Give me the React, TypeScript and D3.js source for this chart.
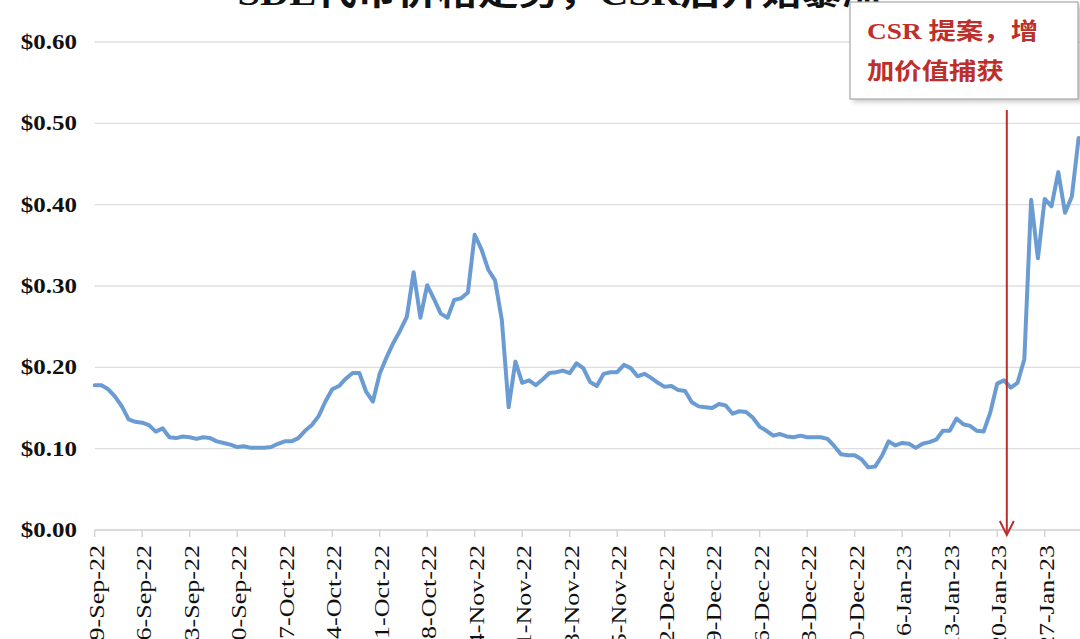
import React from "react";
import * as d3 from "d3";

// ---- data ----
const title = "SDL代币价格走势，CSR后开始暴涨";
const startDate = "2022-09-09";
const prices = [
  0.178, 0.178, 0.173, 0.164, 0.152, 0.136, 0.133, 0.132, 0.129, 0.121,
  0.125, 0.114, 0.113, 0.115, 0.114, 0.112, 0.114, 0.113, 0.109, 0.107,
  0.105, 0.102, 0.103, 0.101, 0.101, 0.101, 0.102, 0.106, 0.109, 0.109,
  0.113, 0.122, 0.129, 0.140, 0.158, 0.173, 0.177, 0.186, 0.193, 0.193,
  0.170, 0.158, 0.192, 0.212, 0.230, 0.245, 0.262, 0.317, 0.261, 0.301,
  0.284, 0.266, 0.261, 0.283, 0.285, 0.292, 0.363, 0.345, 0.320, 0.307,
  0.258, 0.151, 0.207, 0.181, 0.184, 0.178, 0.185, 0.193, 0.194, 0.196,
  0.193, 0.205, 0.199, 0.182, 0.177, 0.192, 0.194, 0.194, 0.203, 0.199,
  0.189, 0.192, 0.187, 0.181, 0.176, 0.177, 0.172, 0.171, 0.157, 0.152,
  0.151, 0.150, 0.155, 0.153, 0.143, 0.146, 0.145, 0.138, 0.127, 0.122,
  0.116, 0.118, 0.115, 0.114, 0.116, 0.114, 0.114, 0.114, 0.112, 0.103,
  0.093, 0.092, 0.092, 0.087, 0.077, 0.078, 0.091, 0.109, 0.104, 0.107,
  0.106, 0.101, 0.106, 0.108, 0.111, 0.122, 0.122, 0.137, 0.130, 0.128,
  0.122, 0.121, 0.145, 0.180, 0.184, 0.175, 0.181, 0.210, 0.406, 0.334,
  0.407, 0.398, 0.440, 0.390, 0.410, 0.482,
];
const xTickLabels = [
  "9-Sep-22", "16-Sep-22", "23-Sep-22", "30-Sep-22", "7-Oct-22", "14-Oct-22",
  "21-Oct-22", "28-Oct-22", "4-Nov-22", "11-Nov-22", "18-Nov-22", "25-Nov-22",
  "2-Dec-22", "9-Dec-22", "16-Dec-22", "23-Dec-22", "30-Dec-22", "6-Jan-23",
  "13-Jan-23", "20-Jan-23", "27-Jan-23",
];
const yTicks = [0, 0.1, 0.2, 0.3, 0.4, 0.5, 0.6];
const annotationDate = "2023-01-21T10:00";
const annotationLines = ["CSR 提案，增", "加价值捕获"];

// ---- layout ----
const W = 1080;
const H = 639;
const SX = 1.19; // text in the picture is stretched along its direction
const serif = "'Liberation Serif', 'Times New Roman', 'Noto Sans CJK SC', serif";
const lineColor = "#6a9bd2";
const red = "#bd2f2a";

const parseTick = d3.utcParse("%d-%b-%y");
const parseDay = d3.utcParse("%Y-%m-%d");
const parseAnn = d3.utcParse("%Y-%m-%dT%H:%M");
const fmtY = d3.format("$.2f");

export default function App() {
  const tickDates = xTickLabels.map((t) => parseTick(t) as Date);
  const x = d3
    .scaleUtc()
    .domain([tickDates[0], tickDates[tickDates.length - 1]])
    .range([94.7, 1044.7]);
  const y = d3.scaleLinear().domain([0, 0.6]).range([530, 42]);

  const start = parseDay(startDate) as Date;
  const series = prices.map((v, i) => ({ date: d3.utcDay.offset(start, i), v }));
  const line = d3
    .line<{ date: Date; v: number }>()
    .x((d) => x(d.date))
    .y((d) => y(d.v));

  const ax = x(parseAnn(annotationDate) as Date);
  const plotLeft = x.range()[0];

  return (
    <svg
      width={W}
      height={H}
      style={{ position: "absolute", left: 0, top: 0, background: "#fff" }}
    >
      <defs>
        <filter id="shadow" x="-20%" y="-20%" width="140%" height="140%">
          <feGaussianBlur stdDeviation="2.5" />
        </filter>
      </defs>
      <rect x={0} y={0} width={W} height={H} fill="#fff" />

      {/* title (cropped at top in the source picture) */}
      <text
        transform={`translate(560, 5) scale(${SX},1)`}
        textAnchor="middle"
        fontFamily={serif}
        fontWeight="bold"
        fontSize={34}
        fill="#111"
      >
        {title}
      </text>

      {/* gridlines */}
      {yTicks.map((t) => (
        <line
          key={"g" + t}
          x1={plotLeft}
          x2={W}
          y1={y(t)}
          y2={y(t)}
          stroke={t === 0 ? "#cfcfcf" : "#dedede"}
          strokeWidth={1.3}
        />
      ))}

      {/* y labels */}
      {yTicks.map((t) => (
        <text
          key={"yl" + t}
          transform={`translate(77, ${y(t) + 7}) scale(${SX},1)`}
          textAnchor="end"
          fontFamily={serif}
          fontWeight="bold"
          fontSize={21}
          fill="#111"
        >
          {fmtY(t)}
        </text>
      ))}

      {/* x ticks + labels */}
      {tickDates.map((d, i) => (
        <g key={"xt" + i}>
          <line x1={x(d)} x2={x(d)} y1={530} y2={537} stroke="#cfcfcf" strokeWidth={1.3} />
          <text
            transform={`translate(${x(d) + 9}, 545) scale(1,1.24) rotate(-90)`}
            textAnchor="end"
            fontFamily={serif}
            fontSize={21}
            fill="#111"
          >
            {xTickLabels[i]}
          </text>
        </g>
      ))}

      {/* price line */}
      <path
        d={line(series) || ""}
        fill="none"
        stroke={lineColor}
        strokeWidth={4}
        strokeLinejoin="round"
        strokeLinecap="round"
      />

      {/* annotation arrow */}
      <g>
        <line x1={ax + 4} x2={ax + 4} y1={112} y2={536} stroke="#b9cfc4" strokeWidth={3} opacity={0.6} filter="url(#shadow)" />
        <line x1={ax} x2={ax} y1={110} y2={534} stroke={red} strokeWidth={2} />
        <polyline
          points={`${ax - 7},${521} ${ax},${535} ${ax + 7},${521}`}
          fill="none"
          stroke={red}
          strokeWidth={2}
        />
      </g>

      {/* annotation box */}
      <rect x={853} y={5} width={230} height={97} fill="#888" opacity={0.45} filter="url(#shadow)" />
      <rect x={850} y={2} width={228} height={97} fill="#fff" stroke="#a8a8a8" strokeWidth={1.2} />
      {annotationLines.map((t, i) => (
        <text
          key={"an" + i}
          transform={`translate(867, ${39 + i * 40}) scale(${SX},1)`}
          fontFamily={serif}
          fontSize={23}
          fill={red}
          fontWeight="bold"
        >
          {t}
        </text>
      ))}
    </svg>
  );
}
